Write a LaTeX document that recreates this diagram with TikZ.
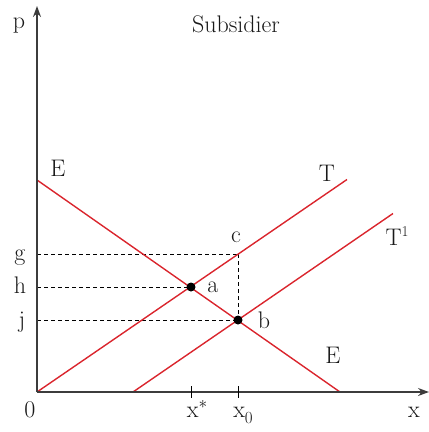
\documentclass[tikz,border=0pt]{standalone}
\usetikzlibrary{arrows.meta}
\definecolor{curvered}{RGB}{218,37,45}
\definecolor{axisgray}{RGB}{60,60,60}
\begin{document}
\begin{tikzpicture}[x=1pt,y=-1pt,
  axisline/.style={draw=axisgray,line width=1.3pt,-{Stealth[length=11pt,width=8pt]}},
  curve/.style={draw=curvered,line width=1.4pt},
  guide/.style={draw=black,line width=0.8pt,dash pattern=on 4pt off 3pt},
  tickmark/.style={draw=black,line width=1pt},
  lbl/.style={font=\fontsize{24}{28}\selectfont,anchor=base,inner sep=0pt,text=black!90},
  pt/.style={circle,fill=black,inner sep=0pt,minimum size=9pt}]
\useasboundingbox (0,0) rectangle (429,432);
% coordinates
\coordinate (O) at (37,392);
\coordinate (ytop) at (37,6);
\coordinate (xend) at (429,392);
\coordinate (E1) at (37,180);
\coordinate (E2) at (340,392);
\coordinate (T0) at (37,392);
\coordinate (T2) at (347,179.5);
\coordinate (U0) at (133,392);
\coordinate (U2) at (393,213.5);
\coordinate (gax) at (37,254);
\coordinate (hax) at (37,287);
\coordinate (jax) at (37,320);
\coordinate (cpt) at (238,254);
\coordinate (ta) at (191,386);
\coordinate (tb) at (191,398);
\coordinate (tc) at (238,386);
\coordinate (td) at (238,398);
% guides
\draw[guide] (gax) -- (cpt);
\draw[guide] (hax) -- (191,287);
\draw[guide] (jax) -- (238,320);
\draw[guide] (cpt) -- (238,320);
% curves
\draw[curve] (E1) -- (E2);
\draw[curve] (T0) -- (T2);
\draw[curve] (U0) -- (U2);
% axes
\draw[axisline] (O) -- (ytop);
\draw[axisline] (O) -- (xend);
\draw[tickmark] (ta) -- (tb);
\draw[tickmark] (tc) -- (td);
% points
\node[pt] (a) at (191,287) {};
\node[pt] (b) at (238,320) {};
% labels
\node[lbl] (title) at (236,32) {Subsidier};
\node[lbl] (pl) at (19,28) {p};
\node[lbl] (xl) at (414,417) {x};
\node[lbl] (zl) at (30,417) {0};
\node[lbl] (xs) at (197,417) {x\raisebox{9pt}{\fontsize{16}{18}\selectfont$\ast$}};
\node[lbl] (x0) at (243,417) {x\raisebox{-6pt}{\fontsize{17}{19}\selectfont 0}};
\node[lbl] (gl) at (20,260) {g};
\node[lbl] (hl) at (20,293) {h};
\node[lbl] (jl) at (22,327) {j};
\node[lbl] (Eu) at (58,176) {E};
\node[lbl] (El) at (333,363) {E};
\node[lbl] (Tl) at (327,181) {T};
\node[lbl] (T1l) at (397,245) {T\raisebox{9pt}{\fontsize{15}{17}\selectfont 1}};
\node[lbl] (cl) at (236,242) {c};
\node[lbl] (al) at (213,292) {a};
\node[lbl] (bl) at (264,328) {b};
\end{tikzpicture}
\end{document}
